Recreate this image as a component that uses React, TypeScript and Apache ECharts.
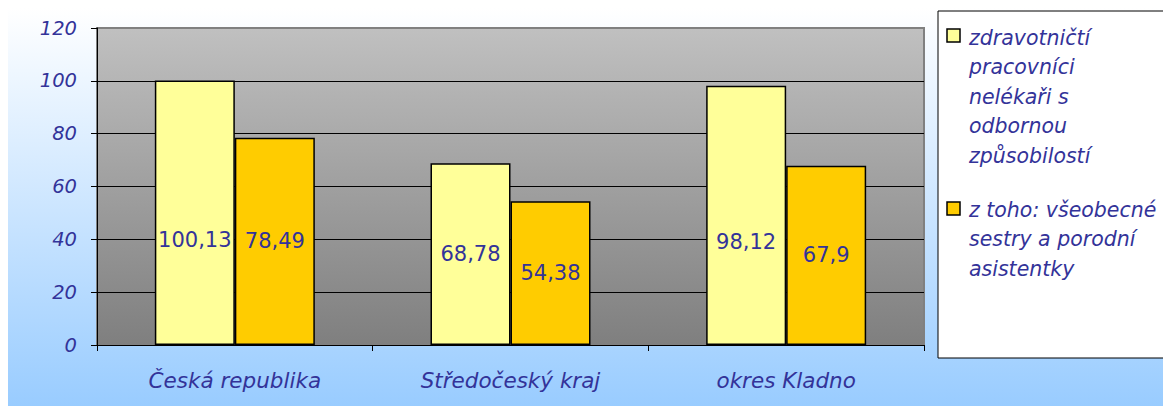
import React, { useEffect, useRef } from "react";
import * as echarts from "echarts";

const categories = ["Česká republika", "Středočeský kraj", "okres Kladno"];
const seriesNames = [
  "zdravotničtí pracovníci nelékaři s odbornou způsobilostí",
  "z toho: všeobecné sestry a porodní asistentky",
];
const legendLines = [
  ["zdravotničtí", "pracovníci", "nelékaři s", "odbornou", "způsobilostí"],
  ["z toho: všeobecné", "sestry a porodní", "asistentky"],
];
const nelekari = [100.13, 68.78, 98.12];
const sestry = [78.49, 54.38, 67.9];
const yMin = 0;
const yMax = 120;
const yInterval = 20;

const colors = ["#FFFF99", "#FFCC00"];
const textColor = "#333399";
const font = "'DejaVu Sans', sans-serif";

export default function App() {
  const ref = useRef<HTMLDivElement>(null);
  useEffect(() => {
    if (!ref.current) return;
    const chart = echarts.init(ref.current, null, { renderer: "svg" });
    const fmt = (p: any) => String(p.value).replace(".", ",");
    const mkData = (arr: number[]) =>
      arr.map((v) => ({ value: v, label: { offset: [0, v > 90 ? 27 : 0] } }));
    const legendY = [15, 187];
    const iconY = [21, 194];
    chart.setOption({
      animation: false,
      backgroundColor: new echarts.graphic.LinearGradient(0, 0, 0, 1, [
        { offset: 0, color: "#FFFFFF" },
        { offset: 1, color: "#99CCFF" },
      ]),
      textStyle: { fontFamily: font },
      grid: {
        left: 89,
        right: 247,
        top: 20,
        bottom: 61,
        show: true,
        backgroundColor: new echarts.graphic.LinearGradient(0, 0, 0, 1, [
          { offset: 0, color: "#C0C0C0" },
          { offset: 1, color: "#7F7F7F" },
        ]),
        borderColor: "#808080",
        borderWidth: 2,
      },
      xAxis: {
        type: "category",
        data: categories,
        axisLine: { lineStyle: { color: "#000", width: 1 } },
        axisTick: { show: true, length: 6, lineStyle: { color: "#000" } },
        axisLabel: {
          color: textColor,
          fontFamily: font,
          fontStyle: "italic",
          fontSize: 21.5,
          margin: 24,
        },
      },
      yAxis: {
        type: "value",
        min: yMin,
        max: yMax,
        interval: yInterval,
        axisLine: { show: true, lineStyle: { color: "#000", width: 1 } },
        axisTick: { show: true, length: 6, lineStyle: { color: "#000" } },
        axisLabel: {
          color: textColor,
          fontFamily: font,
          fontStyle: "italic",
          fontSize: 19.5,
          margin: 20,
        },
        splitLine: {
          show: true,
          showMaxLine: false,
          lineStyle: { color: "#000", width: 1 },
        },
      },
      series: [nelekari, sestry].map((d, i) => ({
        name: seriesNames[i],
        type: "bar",
        data: mkData(d),
        barWidth: 80,
        barGap: "0%",
        itemStyle: { color: colors[i], borderColor: "#000", borderWidth: 1.5 },
        label: {
          show: true,
          position: "inside",
          color: textColor,
          fontFamily: font,
          fontSize: 21,
          formatter: fmt,
        },
      })),
      graphic: [
        {
          type: "rect",
          shape: { x: 930, y: 3, width: 229, height: 347 },
          style: { fill: "#FFFFFF", stroke: "#000", lineWidth: 1 },
          z: 10,
        },
        ...legendLines.flatMap((lines, i) => [
          {
            type: "rect",
            shape: { x: 939, y: iconY[i], width: 13, height: 13 },
            style: { fill: colors[i], stroke: "#000", lineWidth: 1.5 },
            z: 11,
          },
          {
            type: "text",
            x: 961,
            y: legendY[i],
            style: {
              text: lines.join("\n"),
              fill: textColor,
              font: `italic 20.5px ${font}`,
              lineHeight: 29.5,
              verticalAlign: "top",
              align: "left",
            },
            z: 11,
          },
        ]),
      ],
    });
    return () => chart.dispose();
  }, []);
  return <div ref={ref} style={{ width: 1163, height: 398 }} />;
}
